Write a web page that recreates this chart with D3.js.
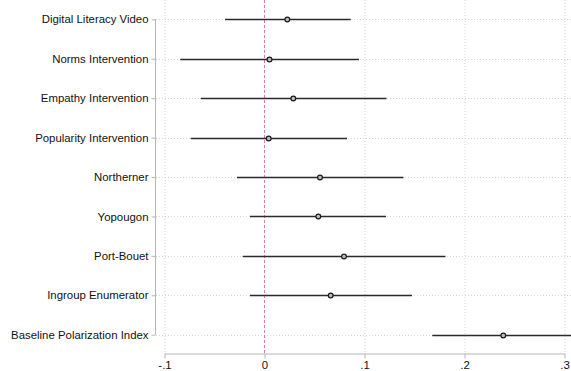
<!DOCTYPE html>
<html><head><meta charset="utf-8">
<script src="https://cdn.jsdelivr.net/npm/d3@7"></script>
<style>body{margin:0;background:#fff}svg{display:block}</style>
</head><body><svg id="c" width="571" height="371"></svg>
<script>
const categories = ["Digital Literacy Video","Norms Intervention","Empathy Intervention","Popularity Intervention","Northerner","Yopougon","Port-Bouet","Ingroup Enumerator","Baseline Polarization Index"];
const estimates = [0.0228,0.005,0.0288,0.0042,0.0555,0.0538,0.0795,0.0662,0.2388];
const lower = [-0.0395,-0.0842,-0.0638,-0.0738,-0.0275,-0.0145,-0.0218,-0.0145,0.1678];
const upper = [0.0862,0.0945,0.122,0.0825,0.139,0.1215,0.181,0.1475,0.315];
const xTicks = [-0.1,0,0.1,0.2,0.3];
const xTickLabels = ["-.1","0",".1",".2",".3"];

const svg = d3.select("#c");
const x = d3.scaleLinear().domain([-0.1,0.3]).range([164.5,564.5]);
const y = d3.scalePoint().domain(categories).range([19.3,334.7]);
const font = "Liberation Sans, Arial, sans-serif";

const g = svg.append("g");
g.selectAll(".vg").data(xTicks.filter(d=>d!==0)).join("line")
  .attr("x1",d=>x(d)+0.5).attr("x2",d=>x(d)+0.5).attr("y1",0).attr("y2",353)
  .attr("stroke","#d4d4d4").attr("stroke-width",1).attr("stroke-dasharray","1,2");
g.selectAll(".hg").data(categories).join("line")
  .attr("x1",156).attr("x2",571).attr("y1",d=>Math.round(y(d))+0.5).attr("y2",d=>Math.round(y(d))+0.5)
  .attr("stroke","#d4d4d4").attr("stroke-width",1).attr("stroke-dasharray","1,2");
g.append("line").attr("x1",x(0)).attr("x2",x(0)).attr("y1",0).attr("y2",353)
  .attr("stroke","#e07aa8").attr("stroke-width",1).attr("stroke-dasharray","3,2");

const yAxis = d3.axisLeft(y).tickSize(4).tickPadding(3);
const ya = svg.append("g").attr("transform","translate(155.5,0)").call(yAxis);
ya.select(".domain").attr("d",`M0,${y(categories[0])}V${y(categories[categories.length-1])}`).attr("stroke","#b5b5b5");
ya.selectAll(".tick line").attr("stroke","#b5b5b5");
ya.selectAll("text").attr("font-family",font).attr("font-size",11.4).attr("fill","#111");

const xAxis = d3.axisBottom(x).tickValues(xTicks).tickFormat((d,i)=>xTickLabels[i]).tickSize(5).tickSizeOuter(0).tickPadding(2);
const xa = svg.append("g").attr("transform","translate(0,353.5)").call(xAxis);
xa.select(".domain").attr("stroke","#b5b5b5");
xa.selectAll(".tick line").attr("stroke","#b5b5b5");
xa.selectAll("text").attr("font-family",font).attr("font-size",11.4).attr("fill","#111");

svg.selectAll(".ci").data(categories).join("line")
  .attr("x1",(d,i)=>x(lower[i])).attr("x2",(d,i)=>x(upper[i]))
  .attr("y1",d=>Math.round(y(d))+0.5).attr("y2",d=>Math.round(y(d))+0.5)
  .attr("stroke","#2a2a2a").attr("stroke-width",1.5);
svg.selectAll(".pt").data(categories).join("circle")
  .attr("cx",(d,i)=>x(estimates[i])).attr("cy",d=>Math.round(y(d))+0.5).attr("r",2.4)
  .attr("fill","#bdbdbd").attr("stroke","#1a1a1a").attr("stroke-width",1.2);
</script></body></html>
